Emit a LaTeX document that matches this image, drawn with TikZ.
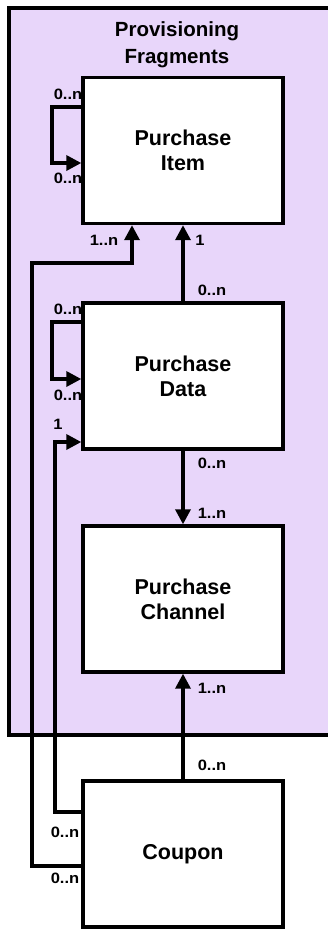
\documentclass[tikz,border=0pt]{standalone}
\usepackage{fontspec}
\setmainfont{Liberation Sans}
\newfontfamily\labfont[FakeStretch=1.1]{Liberation Sans}
\usetikzlibrary{arrows.meta}
\definecolor{frag}{RGB}{232,214,250}
\begin{document}
\begin{tikzpicture}[x=1pt,y=-1pt,
  frame/.style={draw,line width=3.4pt,fill=frag,inner sep=0pt},
  box/.style={draw,line width=3.4pt,fill=white,minimum width=200pt,minimum height=146pt,inner sep=0pt,align=center,font=\fontsize{21.5}{25}\selectfont\bfseries},
  ttl/.style={align=center,inner sep=0pt,font=\fontsize{20.5}{27}\selectfont\bfseries},
  conn/.style={line width=3.4pt},
  arr/.style={conn,-{Triangle[length=15pt,width=15pt]}},
  mult/.style={font=\labfont\fontsize{15}{17}\selectfont\bfseries,inner sep=0pt}]
\useasboundingbox (0,0) rectangle (327,929);
\node[frame,minimum width=336pt,minimum height=727pt] (frm) at (177,371.5) {};
\node[ttl] (title) at (177,45) {Provisioning\\Fragments};
\node[box] (PI) at (183,150.5) {Purchase\\Item};
\node[box] (PD) at (183,376) {Purchase\\Data};
\node[box] (PC) at (183,599) {Purchase\\Channel};
\node[box] (CP) at (183,854) {Coupon};
% self loops
\draw[arr] (PI.west |- 0,107) -- (52,107) -- (52,163) -- (PI.west |- 0,163);
\draw[arr] (PD.west |- 0,322) -- (52,322) -- (52,379) -- (PD.west |- 0,379);
% vertical links
\draw[arr] (PD.north) -- (PI.south);
\draw[arr] (PD.south) -- (PC.north);
\draw[arr] (CP.north) -- (PC.south);
% coupon links
\draw[arr] (CP.west |- 0,866) -- (32,866) -- (32,263) -- (132,263) -- (132,0 |- PI.south);
\draw[arr] (CP.west |- 0,812) -- (55,812) -- (55,442) -- (PD.west |- 0,442);
% multiplicities
\node[mult] (m1) at (68,94) {0..n};
\node[mult] (m2) at (68,178) {0..n};
\node[mult] (m3) at (68,309) {0..n};
\node[mult] (m4) at (68,395) {0..n};
\node[mult] (m5) at (58,424) {1};
\node[mult] (m6) at (104,240) {1..n};
\node[mult] (m7) at (200,240) {1};
\node[mult] (m8) at (212,290) {0..n};
\node[mult] (m9) at (212,463) {0..n};
\node[mult] (m10) at (212,513) {1..n};
\node[mult] (m11) at (212,688) {1..n};
\node[mult] (m12) at (212,765) {0..n};
\node[mult] (m13) at (65,832) {0..n};
\node[mult] (m14) at (65,878) {0..n};
\end{tikzpicture}
\end{document}
